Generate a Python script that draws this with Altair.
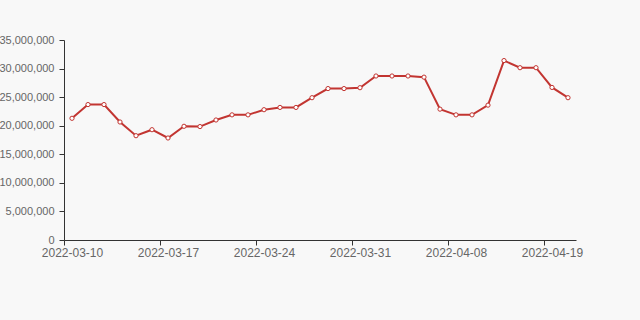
import altair as alt
import pandas as pd

dates = [
    "2022-03-10", "2022-03-11", "2022-03-12", "2022-03-14", "2022-03-15", "2022-03-16",
    "2022-03-17", "2022-03-18", "2022-03-19", "2022-03-21", "2022-03-22", "2022-03-23",
    "2022-03-24", "2022-03-25", "2022-03-26", "2022-03-28", "2022-03-29", "2022-03-30",
    "2022-03-31", "2022-04-01", "2022-04-02", "2022-04-05", "2022-04-06", "2022-04-07",
    "2022-04-08", "2022-04-11", "2022-04-12", "2022-04-13", "2022-04-14", "2022-04-18",
    "2022-04-19", "2022-04-20",
]
values = [
    21300000, 23700000, 23700000, 20650000, 18250000, 19300000,
    17850000, 19900000, 19850000, 21000000, 21900000, 21900000,
    22800000, 23200000, 23200000, 24900000, 26500000, 26500000,
    26650000, 28700000, 28700000, 28700000, 28500000, 22900000,
    21900000, 21900000, 23600000, 31400000, 30150000, 30150000,
    26700000, 24900000,
]
label_dates = ["2022-03-10", "2022-03-17", "2022-03-24", "2022-03-31", "2022-04-08", "2022-04-19"]
y_ticks = [0, 5000000, 10000000, 15000000, 20000000, 25000000, 30000000, 35000000]

df = pd.DataFrame({"date": dates, "value": values})

LINE = "#c23531"
FONT = "Liberation Sans"

x = alt.X(
    "date:N",
    sort=None,
    scale=alt.Scale(type="point", padding=0.5),
    axis=alt.Axis(
        title=None,
        values=label_dates,
        labelAngle=0,
        tickOffset=-8,
        labelOffset=8,
        tickSize=5,
        labelPadding=2,
        domainColor="#333333",
        tickColor="#333333",
        labelColor="#666666",
        labelFont=FONT,
        labelFontSize=12,
        grid=False,
    ),
)
y = alt.Y(
    "value:Q",
    scale=alt.Scale(domain=[0, 35000000], nice=False),
    axis=alt.Axis(
        title=None,
        values=y_ticks,
        format=",d",
        tickSize=5,
        labelPadding=5,
        domainColor="#333333",
        tickColor="#333333",
        labelColor="#666666",
        labelFont=FONT,
        labelFontSize=11,
        grid=False,
    ),
)

line = alt.Chart(df).mark_line(color=LINE, strokeWidth=2).encode(x=x, y=y)
pts = alt.Chart(df).mark_point(
    shape="circle", size=18, filled=True, fill="white", stroke=LINE, strokeWidth=1, opacity=1
).encode(x=x, y=y)

chart = (
    alt.layer(line, pts)
    .properties(width=512, height=200, background="#f8f8f8", padding={"left": 64, "top": 40, "right": 64, "bottom": 80})
    .configure_view(stroke=None)
)
chart = chart.properties(autosize=alt.AutoSizeParams(type="none"))

chart.save("out.html", embed_options={"renderer": "svg", "actions": False})
